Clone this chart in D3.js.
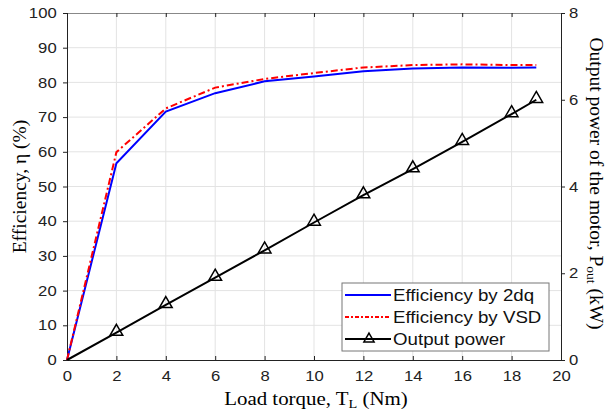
<!DOCTYPE html>
<html>
<head>
<meta charset="utf-8">
<script src="https://cdn.jsdelivr.net/npm/d3@7"></script>
<style>
  body { margin: 0; background: #fff; }
</style>
</head>
<body>
<svg id="chart"></svg>
<script>
"use strict";

// Load torque (Nm)
const torque = [0, 2, 4, 6, 8, 10, 12, 14, 16, 18, 19];
// Efficiency (%) by 2dq model
const eff2dq = [0, 56.7, 71.6, 76.9, 80.3, 81.7, 83.2, 84.0, 84.3, 84.2, 84.3];
// Efficiency (%) by VSD model
const effVsd = [0, 59.9, 72.5, 78.5, 81.0, 82.7, 84.3, 85.0, 85.2, 85.0, 85.0];
// Output power (kW)
const power = [0, 0.63, 1.27, 1.9, 2.53, 3.17, 3.8, 4.4, 5.03, 5.67, 6.0];

const xTicks = d3.range(0, 21, 2);
const yTicks = d3.range(0, 101, 10);
const y2Ticks = [0, 2, 4, 6, 8];

const width = 609;
const height = 413;
const marginLeft = 67;
const marginRight = 48;
const marginTop = 13;
const marginBottom = 53;

const svg = d3.select("#chart")
    .attr("width", width)
    .attr("height", height);

const x = d3.scaleLinear().domain([0, 20]).range([marginLeft, width - marginRight]);
const y = d3.scaleLinear().domain([0, 100]).range([height - marginBottom, marginTop]);
const y2 = d3.scaleLinear().domain([0, 8]).range([height - marginBottom, marginTop]);

const tickFont = "'Liberation Sans', Arial, sans-serif";
const titleFont = "'Liberation Serif', 'Times New Roman', serif";
const stretch = 1.15; // the figure text is a bit wide

// grid
svg.append("g")
    .selectAll("line")
    .data(xTicks.slice(1, -1))
    .join("line")
    .attr("x1", d => x(d)).attr("x2", d => x(d))
    .attr("y1", y(0)).attr("y2", y(100))
    .attr("stroke", "#e3e3e3").attr("stroke-width", 1);
svg.append("g")
    .selectAll("line")
    .data(yTicks.slice(1, -1))
    .join("line")
    .attr("x1", x(0)).attr("x2", x(20))
    .attr("y1", d => y(d)).attr("y2", d => y(d))
    .attr("stroke", "#e3e3e3").attr("stroke-width", 1);

// axes
const axisStyle = g => {
    g.selectAll("text")
        .attr("font-family", tickFont)
        .attr("font-size", 14.5)
        .attr("fill", "#222");
    g.select(".domain").attr("stroke", "#222");
    g.selectAll(".tick line").attr("stroke", "#222");
};

svg.append("g")
    .attr("transform", `translate(0,${y(0)})`)
    .call(d3.axisBottom(x).tickValues(xTicks).tickSizeInner(-4).tickSizeOuter(0).tickPadding(11))
    .call(axisStyle)
    .call(g => g.selectAll("text").attr("transform", `scale(${stretch},1)`));

svg.append("g")
    .attr("transform", `translate(0,${y(100)})`)
    .call(d3.axisTop(x).tickValues(xTicks).tickSizeInner(-4).tickSizeOuter(0).tickFormat(""))
    .call(axisStyle)
    .call(g => g.select(".domain").attr("stroke", "#888"));

svg.append("g")
    .attr("transform", `translate(${x(0)},0)`)
    .call(d3.axisLeft(y).tickValues(yTicks).tickSizeInner(4).tickSizeOuter(0).tickPadding(5))
    .call(axisStyle)
    .call(g => g.selectAll("text").attr("transform", `scale(${stretch},1)`));

svg.append("g")
    .attr("transform", `translate(${x(20)},0)`)
    .call(d3.axisRight(y2).tickValues(y2Ticks).tickSizeInner(4).tickSizeOuter(0).tickPadding(3))
    .call(axisStyle)
    .call(g => g.selectAll("text").attr("transform", `scale(${stretch},1)`));

// lines
const line = d3.line();

svg.append("path")
    .attr("fill", "none")
    .attr("stroke", "#0000ff")
    .attr("stroke-width", 2)
    .attr("d", line(torque.map((t, i) => [x(t), y(eff2dq[i])])));

svg.append("path")
    .attr("fill", "none")
    .attr("stroke", "#ff0000")
    .attr("stroke-width", 2)
    .attr("stroke-dasharray", "7,3,2,3")
    .attr("d", line(torque.map((t, i) => [x(t), y(effVsd[i])])));

svg.append("path")
    .attr("fill", "none")
    .attr("stroke", "#000")
    .attr("stroke-width", 2)
    .attr("d", line(torque.map((t, i) => [x(t), y2(power[i])])));

const tri = d3.symbol().type(d3.symbolTriangle).size(70);
svg.append("g")
    .selectAll("path")
    .data(torque.map((t, i) => [t, power[i]]).slice(1))
    .join("path")
    .attr("transform", d => `translate(${x(d[0])},${y2(d[1]) - 1})`)
    .attr("d", tri)
    .attr("fill", "none")
    .attr("stroke", "#000")
    .attr("stroke-width", 1.5);

// legend
const lg = svg.append("g").attr("transform", "translate(342,283)");
lg.append("rect")
    .attr("width", 207).attr("height", 68)
    .attr("fill", "#fff").attr("stroke", "#777").attr("stroke-width", 1);
const legendItems = [
    { label: "Efficiency by 2dq", color: "#0000ff", dash: null, marker: false },
    { label: "Efficiency by VSD", color: "#ff0000", dash: "4,2,2,2", marker: false },
    { label: "Output power", color: "#000", dash: null, marker: true }
];
legendItems.forEach((d, i) => {
    const yy = 12 + i * 22;
    lg.append("line")
        .attr("x1", 3).attr("x2", 49).attr("y1", yy).attr("y2", yy)
        .attr("stroke", d.color).attr("stroke-width", 2)
        .attr("stroke-dasharray", d.dash);
    if (d.marker) {
        lg.append("path")
            .attr("transform", `translate(27,${yy})`)
            .attr("d", d3.symbol().type(d3.symbolTriangle).size(45))
            .attr("fill", "none").attr("stroke", "#000").attr("stroke-width", 1.5);
    }
    lg.append("text")
        .attr("transform", `translate(51,${yy + 6}) scale(1.17,1)`)
        .attr("font-family", tickFont).attr("font-size", 16)
        .attr("fill", "#111")
        .text(d.label);
});

// axis titles
svg.append("text")
    .attr("transform", `translate(${(x(0) + x(20)) / 2 + 2},405) scale(1.1,1)`)
    .attr("text-anchor", "middle")
    .attr("font-family", titleFont)
    .attr("font-size", 19)
    .call(t => {
        t.append("tspan").text("Load torque, T");
        t.append("tspan").attr("font-size", 13).attr("dy", 3).text("L");
        t.append("tspan").attr("dy", -3).text(" (Nm)");
    });

svg.append("text")
    .attr("transform", `translate(26,${(y(0) + y(100)) / 2}) rotate(-90)`)
    .attr("text-anchor", "middle")
    .attr("font-family", titleFont)
    .attr("font-size", 19.5)
    .text("Efficiency, η (%)");

svg.append("text")
    .attr("transform", `translate(590,${(y(0) + y(100)) / 2 - 3}) rotate(90)`)
    .attr("text-anchor", "middle")
    .attr("font-family", titleFont)
    .attr("font-size", 19.5)
    .call(t => {
        t.append("tspan").text("Output power of the motor, P");
        t.append("tspan").attr("font-size", 13.5).attr("dy", 3).text("out");
        t.append("tspan").attr("dy", -3).text(" (kW)");
    });
</script>
</body>
</html>
